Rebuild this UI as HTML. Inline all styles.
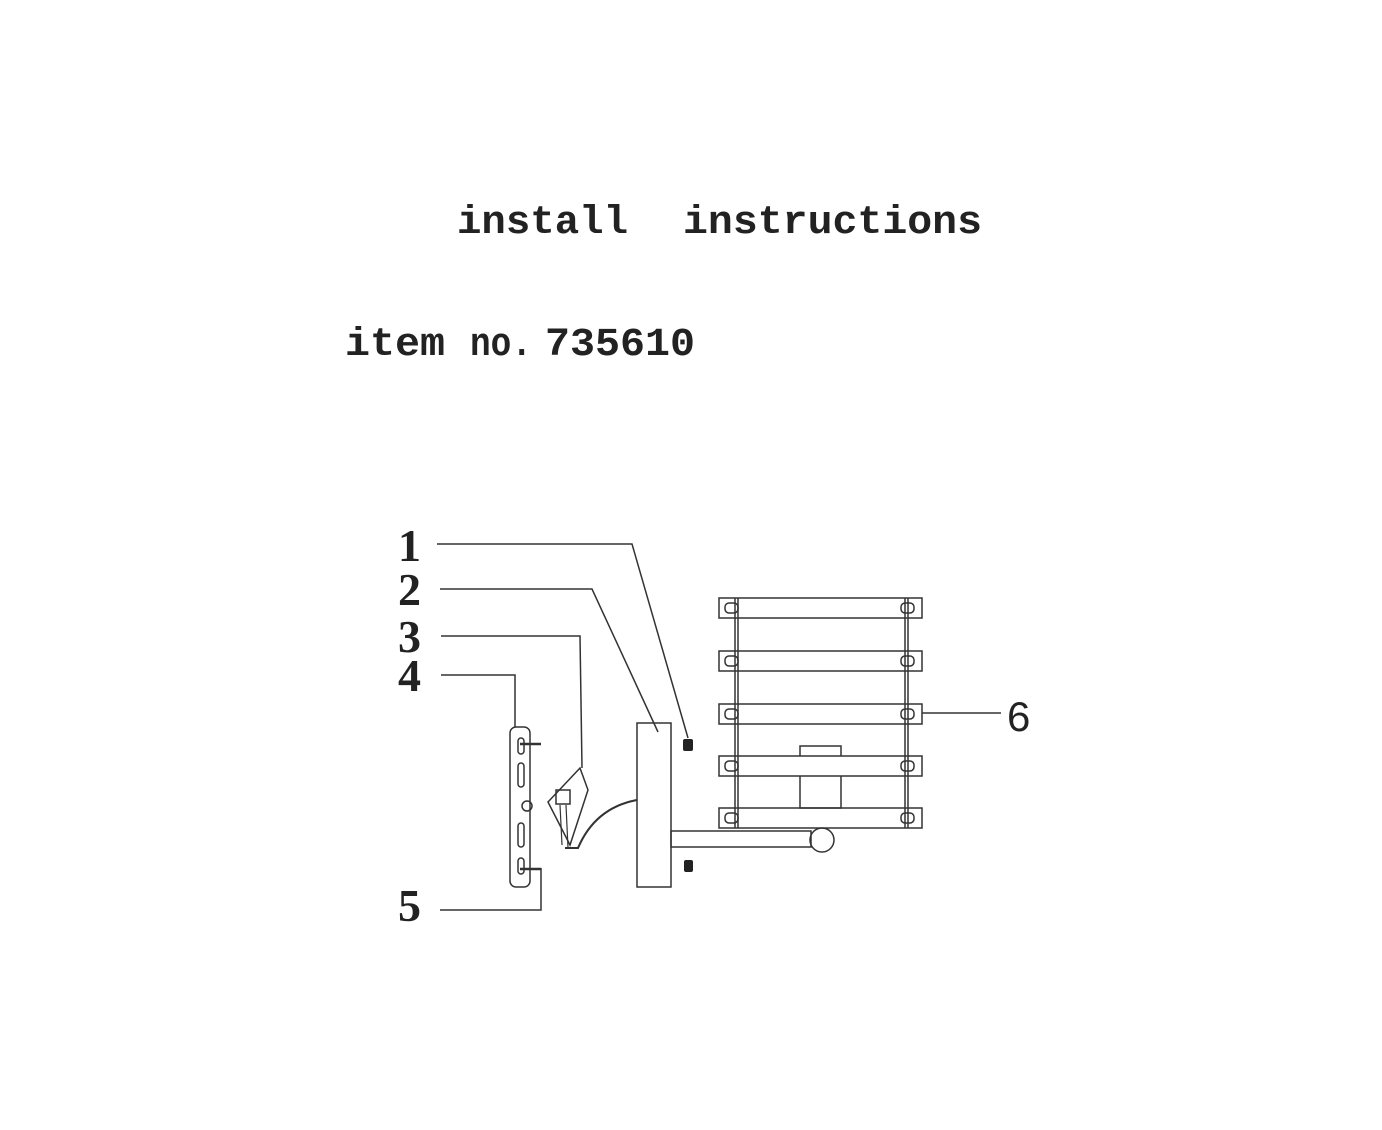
<!DOCTYPE html>
<html><head><style>
body{margin:0;background:#fff;}
svg{display:block}
</style></head><body>
<svg width="1382" height="1130" xmlns="http://www.w3.org/2000/svg">
<rect width="1382" height="1130" fill="#fff"/>
<g font-family="Liberation Mono, monospace" font-weight="bold" fill="#222">
<text x="457" y="233" font-size="40" textLength="171" lengthAdjust="spacingAndGlyphs">install</text>
<text x="683" y="233" font-size="40" textLength="299" lengthAdjust="spacingAndGlyphs">instructions</text>
<text x="345" y="355" font-size="40" textLength="100" lengthAdjust="spacingAndGlyphs">item</text>
<text x="470" y="355" font-size="40" textLength="62" lengthAdjust="spacingAndGlyphs">no.</text>
<text x="545" y="355" font-size="40" textLength="150" lengthAdjust="spacingAndGlyphs">735610</text>
</g>
<g font-family="Liberation Serif, serif" font-size="46" font-weight="bold" fill="#222">
<text x="398" y="561">1</text>
<text x="398" y="605">2</text>
<text x="398" y="652">3</text>
<text x="398" y="691">4</text>
<text x="398" y="921">5</text>
<text x="1007" y="731" font-family="Liberation Sans, sans-serif" font-weight="normal" font-size="42">6</text>
</g>
<g fill="none" stroke="#333" stroke-width="1.5">
<polyline points="437,544 632,544 688,738"/>
<polyline points="440,589 592,589 658,732"/>
<polyline points="441,636 580,636 582,768"/>
<polyline points="441,675 515,675 515,727"/>
<polyline points="440,910 541,910 541,868"/>
<line x1="922" y1="713" x2="1001" y2="713"/>
<rect x="510" y="727" width="20" height="160" rx="6"/>
<rect x="518" y="738" width="6" height="16" rx="3"/>
<rect x="518" y="763" width="6" height="24" rx="3"/>
<circle cx="527" cy="806" r="5"/>
<rect x="518" y="823" width="6" height="24" rx="3"/>
<rect x="518" y="858" width="6" height="16" rx="3"/>
<line x1="520" y1="744" x2="541" y2="744" stroke-width="2.5"/>
<line x1="520" y1="869" x2="541" y2="869" stroke-width="2.5"/>
<path d="M548,802 L580,768 L588,790 L570,845 Z"/>
<rect x="556" y="790" width="14" height="14"/>
<path d="M637,800 C610,805 590,820 578,848 L565,848" stroke-width="2"/>
<path d="M560,805 L562,845 M566,805 L568,848" stroke-width="1.2"/>
<rect x="637" y="723" width="34" height="164"/>
<rect x="671" y="831" width="140" height="16"/>
<circle cx="822" cy="840" r="12"/>
<rect x="800" y="746" width="41" height="62"/>
<rect x="719" y="598" width="203" height="20"/>
<rect x="719" y="651" width="203" height="20"/>
<rect x="719" y="704" width="203" height="20"/>
<rect x="719" y="756" width="203" height="20" fill="#fff"/>
<rect x="719" y="808" width="203" height="20"/>
<line x1="735" y1="598" x2="735" y2="828"/>
<line x1="738" y1="598" x2="738" y2="828"/>
<line x1="905" y1="598" x2="905" y2="828"/>
<line x1="908" y1="598" x2="908" y2="828"/>
</g>
<g fill="none" stroke="#333" stroke-width="1.5">
<rect x="725" y="603" width="13" height="10" rx="4"/><rect x="901" y="603" width="13" height="10" rx="4"/>
<rect x="725" y="656" width="13" height="10" rx="4"/><rect x="901" y="656" width="13" height="10" rx="4"/>
<rect x="725" y="709" width="13" height="10" rx="4"/><rect x="901" y="709" width="13" height="10" rx="4"/>
<rect x="725" y="761" width="13" height="10" rx="4"/><rect x="901" y="761" width="13" height="10" rx="4"/>
<rect x="725" y="813" width="13" height="10" rx="4"/><rect x="901" y="813" width="13" height="10" rx="4"/>
</g>
<rect x="683" y="739" width="10" height="12" rx="2" fill="#222"/>
<rect x="684" y="860" width="9" height="12" rx="2" fill="#222"/>
</svg>
</body></html>
